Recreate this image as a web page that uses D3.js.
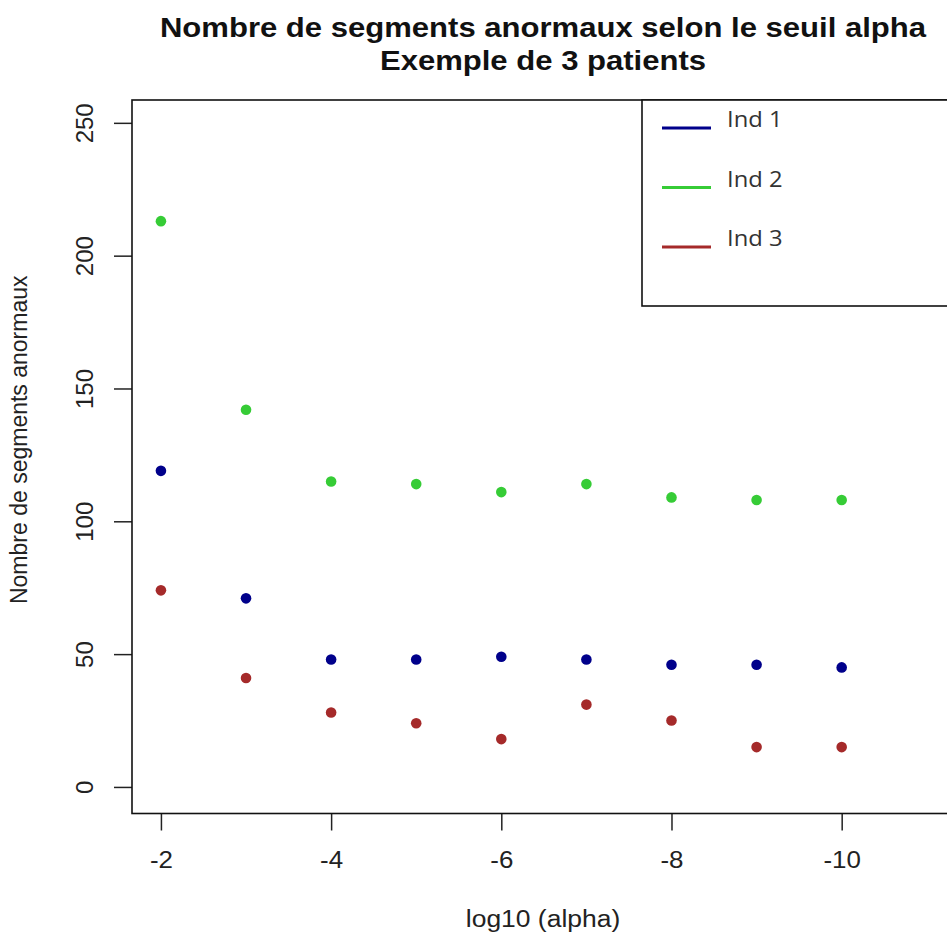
<!DOCTYPE html>
<html><head><meta charset="utf-8">
<script src="https://cdn.jsdelivr.net/npm/d3@7"></script>
<style>body{margin:0;background:#fff} svg{display:block}</style>
</head><body>
<svg id="chart" width="947" height="934"></svg>
<script>
// ---- data ----
const log10Alpha = [-2, -3, -4, -5, -6, -7, -8, -9, -10];
const ind1 = [119, 71, 48, 48, 49, 48, 46, 46, 45];
const ind2 = [213, 142, 115, 114, 111, 114, 109, 108, 108];
const ind3 = [74, 41, 28, 24, 18, 31, 25, 15, 15];
const seriesNames = ["Ind 1", "Ind 2", "Ind 3"];
const seriesColors = ["#00008b", "#36cc36", "#a52a2a"];
const xTicks = [-2, -4, -6, -8, -10];
const yTicks = [0, 50, 100, 150, 200, 250];
const titleLines = ["Nombre de segments anormaux selon le seuil alpha", "Exemple de 3 patients"];
const xLabel = "log10 (alpha)";
const yLabel = "Nombre de segments anormaux";

const series = [ind1, ind2, ind3].map((vals, i) => ({
  name: seriesNames[i], color: seriesColors[i],
  points: vals.map((v, j) => ({x: log10Alpha[j], y: v}))
}));

// ---- layout ----
const svg = d3.select("#chart");
const frame = {left: 132, right: 954, top: 100, bottom: 813.5};
const hStretch = 1.15;
const sansFont = "'Liberation Sans', Arial, sans-serif";

const x = d3.scaleLinear().domain([-1.66, -11.32]).range([frame.left, frame.right]);
const y = d3.scaleLinear().domain([-10, 258.6]).range([frame.bottom, frame.top]);

function stretch(sel, k) {
  sel.each(function () {
    const L = this.getComputedTextLength();
    d3.select(this).attr("textLength", L * k).attr("lengthAdjust", "spacingAndGlyphs");
  });
}

// title
const title = svg.append("g").attr("font-family", sansFont).attr("font-weight", "bold")
  .attr("font-size", 27).attr("fill", "#111").attr("text-anchor", "middle");
title.selectAll("text").data(titleLines).join("text")
  .attr("x", (frame.left + frame.right) / 2)
  .attr("y", (d, i) => 37 + i * 33)
  .text(d => d)
  .call(stretch, 1.15);

// axes
const xAxis = svg.append("g").attr("transform", `translate(0,${frame.bottom})`)
  .call(d3.axisBottom(x).tickValues(xTicks).tickSize(17).tickFormat(d3.format("d")));
xAxis.select(".domain").remove();
xAxis.selectAll(".tick line").attr("stroke", "#222").attr("stroke-width", 1.5);
xAxis.selectAll(".tick text")
  .attr("y", 54).attr("dy", 0)
  .attr("font-family", sansFont).attr("font-size", 24).attr("fill", "#222")
  .text(d => String(d).replace("\u2212", "-"))
  .call(stretch, 1.08);

const yAxis = svg.append("g").attr("transform", `translate(${frame.left},0)`)
  .call(d3.axisLeft(y).tickValues(yTicks).tickSize(18).tickFormat(d3.format("d")));
yAxis.select(".domain").remove();
yAxis.selectAll(".tick line").attr("stroke", "#222").attr("stroke-width", 1.5);
yAxis.selectAll(".tick text")
  .attr("x", 0).attr("y", -39).attr("dy", 0)
  .attr("transform", "rotate(-90)")
  .attr("text-anchor", "middle")
  .attr("font-family", sansFont).attr("font-size", 24).attr("fill", "#222");

// axis titles
svg.append("text")
  .attr("x", (frame.left + frame.right) / 2).attr("y", 927)
  .attr("text-anchor", "middle")
  .attr("font-family", sansFont).attr("font-size", 23).attr("fill", "#222")
  .text(xLabel)
  .call(stretch, hStretch);

svg.append("text")
  .attr("transform", `translate(27,${(frame.top + frame.bottom) / 2 - 17}) rotate(-90)`)
  .attr("text-anchor", "middle")
  .attr("font-family", sansFont).attr("font-size", 23).attr("fill", "#222")
  .text(yLabel);

// points
const pts = svg.append("g");
series.forEach(s => {
  pts.append("g").selectAll("circle").data(s.points).join("circle")
    .attr("cx", d => x(d.x)).attr("cy", d => y(d.y))
    .attr("r", 5.3).attr("fill", s.color);
});

// frame
svg.append("rect")
  .attr("x", frame.left).attr("y", frame.top)
  .attr("width", frame.right - frame.left).attr("height", frame.bottom - frame.top)
  .attr("fill", "none").attr("stroke", "#111").attr("stroke-width", 1.6);

// legend
const legend = svg.append("g");
legend.append("rect")
  .attr("x", 642).attr("y", frame.top).attr("width", 330).attr("height", 206)
  .attr("fill", "#fff").attr("stroke", "#111").attr("stroke-width", 1.6);
const items = legend.selectAll("g.item").data(series).join("g")
  .attr("class", "item")
  .attr("transform", (d, i) => `translate(0,${128 + i * 59.5})`);
items.append("line")
  .attr("x1", 662).attr("x2", 711).attr("y1", 0).attr("y2", 0)
  .attr("stroke", d => d.color).attr("stroke-width", 3);
items.append("text")
  .attr("x", 727).attr("y", -1)
  .attr("font-family", "'Open Sans', sans-serif").attr("font-size", 22).attr("fill", "#333")
  .text(d => d.name)
  .call(stretch, 1.08);
</script>
</body></html>
